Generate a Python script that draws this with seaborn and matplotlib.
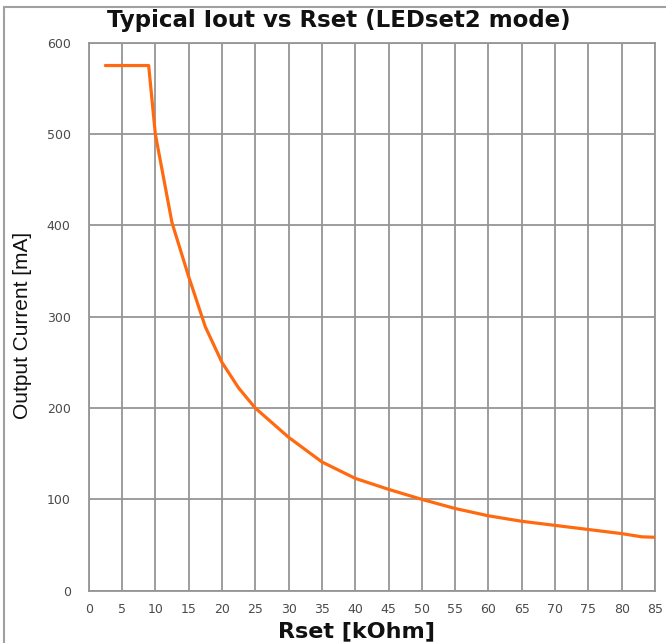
import matplotlib
matplotlib.use("Agg")
import matplotlib.pyplot as plt
import seaborn as sns
import pandas as pd
from matplotlib.patches import Rectangle

# Data
rset_kohm = [2.5, 9, 10, 12.5, 15, 17.5, 20, 22.5, 25, 30, 35, 40, 45, 50, 55, 60, 65, 70, 75, 80, 83, 85]
iout_ma = [575, 575, 500, 403, 344, 289, 250, 222, 200, 168, 141, 123, 111, 100, 90, 82, 76, 71.5, 67, 62.5, 59, 58.5]
x_ticks = list(range(0, 90, 5))
y_ticks = list(range(0, 700, 100))

df = pd.DataFrame({"Rset": rset_kohm, "Iout": iout_ma})

sns.set_style("white")
plt.rcParams["font.family"] = ["DejaVu Sans"]

W, H = 666, 643
fig = plt.figure(figsize=(6.66, 6.43), dpi=100)
ax = fig.add_axes([88.7 / W, 1 - 590.7 / H, (655 - 88.7) / W, (590.7 - 42.7) / H])

grid_c = "#959595"
sns.lineplot(data=df, x="Rset", y="Iout", ax=ax, color="#FF6A10", lw=2.3,
             sort=False, zorder=3)

ax.set_xlim(0, 85)
ax.set_ylim(0, 600)
ax.set_xticks(x_ticks)
ax.set_yticks(y_ticks)
ax.grid(True, color=grid_c, lw=1.3)
ax.set_axisbelow(True)
for s in ax.spines.values():
    s.set_color(grid_c)
    s.set_linewidth(1.3)
ax.tick_params(axis="both", direction="out", length=5, width=1.3, color=grid_c,
               labelsize=9, labelcolor="#4a4a4a")
ax.tick_params(axis="y", pad=8)
ax.tick_params(axis="x", pad=4)
ax.set_xlabel("")
ax.set_ylabel("")

fig.text(339 / W, 1 - 21 / H, "Typical Iout vs Rset (LEDset2 mode)", fontsize=16.5,
         fontweight="bold", ha="center", va="center", color="#111111")
fig.text(356 / W, 1 - 631 / H, "Rset [kOhm]", fontsize=16, fontweight="bold",
         ha="center", va="center", color="#111111")
fig.text(23 / W, 1 - 325 / H, "Output Current [mA]", fontsize=15,
         family=["Liberation Sans", "DejaVu Sans"], rotation=90,
         ha="center", va="center", color="#111111")

# Outer chart border (left and top edges visible)
fig.patches.append(Rectangle((4 / W, -0.05), 1.2, 1 - 7 / H + 0.05,
                             transform=fig.transFigure, fill=False,
                             edgecolor="#a0a0a0", lw=1.5, clip_on=False))

fig.savefig("out.png", dpi=100)
